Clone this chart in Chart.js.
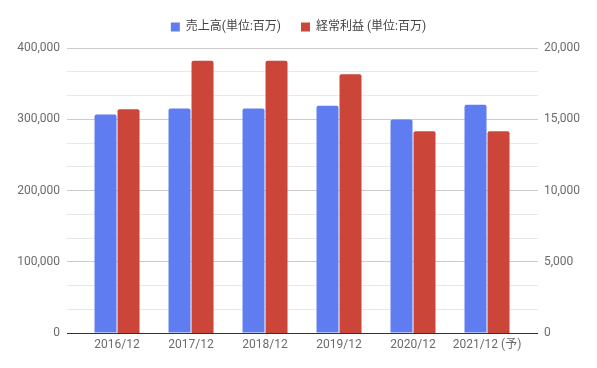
<!DOCTYPE html>
<html>
<head>
<meta charset="utf-8">
<script src="https://cdn.jsdelivr.net/npm/chart.js@4/dist/chart.umd.min.js"></script>
<style>
html,body{margin:0;padding:0;background:#fff;}
canvas{display:block;}
</style>
</head>
<body>
<canvas id="c" width="597" height="368"></canvas>
<script>
const categories = ['2016/12', '2017/12', '2018/12', '2019/12', '2020/12', '2021/12 (予)'];
const salesLabel = '売上高(単位:百万)';
const profitLabel = '経常利益 (単位:百万)';
const sales = [306500, 315000, 315000, 319000, 299500, 320500];
const profit = [15700, 19100, 19100, 18150, 14150, 14150];
const leftTicks = [0, 100000, 200000, 300000, 400000];
const rightTicks = [0, 5000, 10000, 15000, 20000];

const FONT = "Roboto, 'Noto Sans CJK JP', sans-serif";
const fmt = v => Math.round(v).toLocaleString('en-US');

function minorTicks(major) {
  const out = [];
  for (let i = 0; i < major.length; i++) {
    out.push({value: major[i], major: true});
    if (i < major.length - 1) {
      const step = (major[i + 1] - major[i]) / 3;
      out.push({value: major[i] + step, major: false});
      out.push({value: major[i] + 2 * step, major: false});
    }
  }
  return out;
}

const legendSpacer = {
  id: 'legendSpacer',
  beforeLayout(chart) {
    const lg = chart.legend;
    if (lg && !lg._spacerPatched) {
      const fit = lg.fit;
      lg.fit = function() { fit.call(this); this.height += 5; };
      lg._spacerPatched = true;
    }
  }
};

new Chart(document.getElementById('c'), {
  type: 'bar',
  plugins: [legendSpacer],
  data: {
    datasets: [
      {
        label: salesLabel,
        data: sales.map((v, i) => ({x: i, y: v})),
        backgroundColor: '#5F7CF0',
        yAxisID: 'y',
        borderRadius: 2,
        borderSkipped: 'bottom',
        categoryPercentage: 0.6216,
        barPercentage: 0.9565
      },
      {
        label: profitLabel,
        data: profit.map((v, i) => ({x: i, y: v})),
        backgroundColor: '#CC4539',
        yAxisID: 'y1',
        borderRadius: 2,
        borderSkipped: 'bottom',
        categoryPercentage: 0.6216,
        barPercentage: 0.9565
      }
    ]
  },
  options: {
    responsive: false,
    devicePixelRatio: 1,
    animation: false,
    layout: {padding: {left: 0, right: 0, top: 1, bottom: 0}},
    plugins: {
      legend: {
        position: 'top',
        labels: {
          boxWidth: 9,
          boxHeight: 9,
          padding: 20,
          color: '#444',
          font: {family: FONT, size: 12}
        }
      },
      tooltip: {enabled: false}
    },
    scales: {
      x: {
        type: 'linear',
        min: -0.676,
        max: 5.689,
        offset: false,
        afterBuildTicks: s => { s.ticks = categories.map((c, i) => ({value: i})); },
        afterFit: s => { s.height = 35; },
        grid: {display: false, drawTicks: false},
        border: {display: false},
        ticks: {
          autoSkip: false,
          maxRotation: 0,
          padding: 5,
          color: '#6b6b6b',
          font: {family: FONT, size: 12},
          callback: v => categories[v]
        }
      },
      y: {
        position: 'left',
        min: 0,
        max: 400000,
        afterBuildTicks: s => { s.ticks = minorTicks(leftTicks); },
        afterFit: s => { s.width = 67; },
        border: {display: false},
        grid: {
          drawTicks: false,
          lineWidth: 1,
          color: ctx => {
            const t = ctx.tick;
            if (!t) return '#e6e6e6';
            if (t.value === 0) return '#333';
            return t.major ? '#cccccc' : '#e8e8e8';
          }
        },
        ticks: {
          padding: 7,
          autoSkip: false,
          color: '#6b6b6b',
          font: {family: FONT, size: 12},
          callback: function(v, i, ticks) { return ticks[i].major ? fmt(v) : ''; }
        }
      },
      y1: {
        position: 'right',
        min: 0,
        max: 20000,
        afterBuildTicks: s => { s.ticks = minorTicks(rightTicks); },
        afterFit: s => { s.width = 59; },
        border: {display: false},
        grid: {display: false, drawTicks: false},
        ticks: {
          padding: 6,
          autoSkip: false,
          color: '#6b6b6b',
          font: {family: FONT, size: 12},
          callback: function(v, i, ticks) { return ticks[i].major ? fmt(v) : ''; }
        }
      }
    }
  }
});
</script>
</body>
</html>
